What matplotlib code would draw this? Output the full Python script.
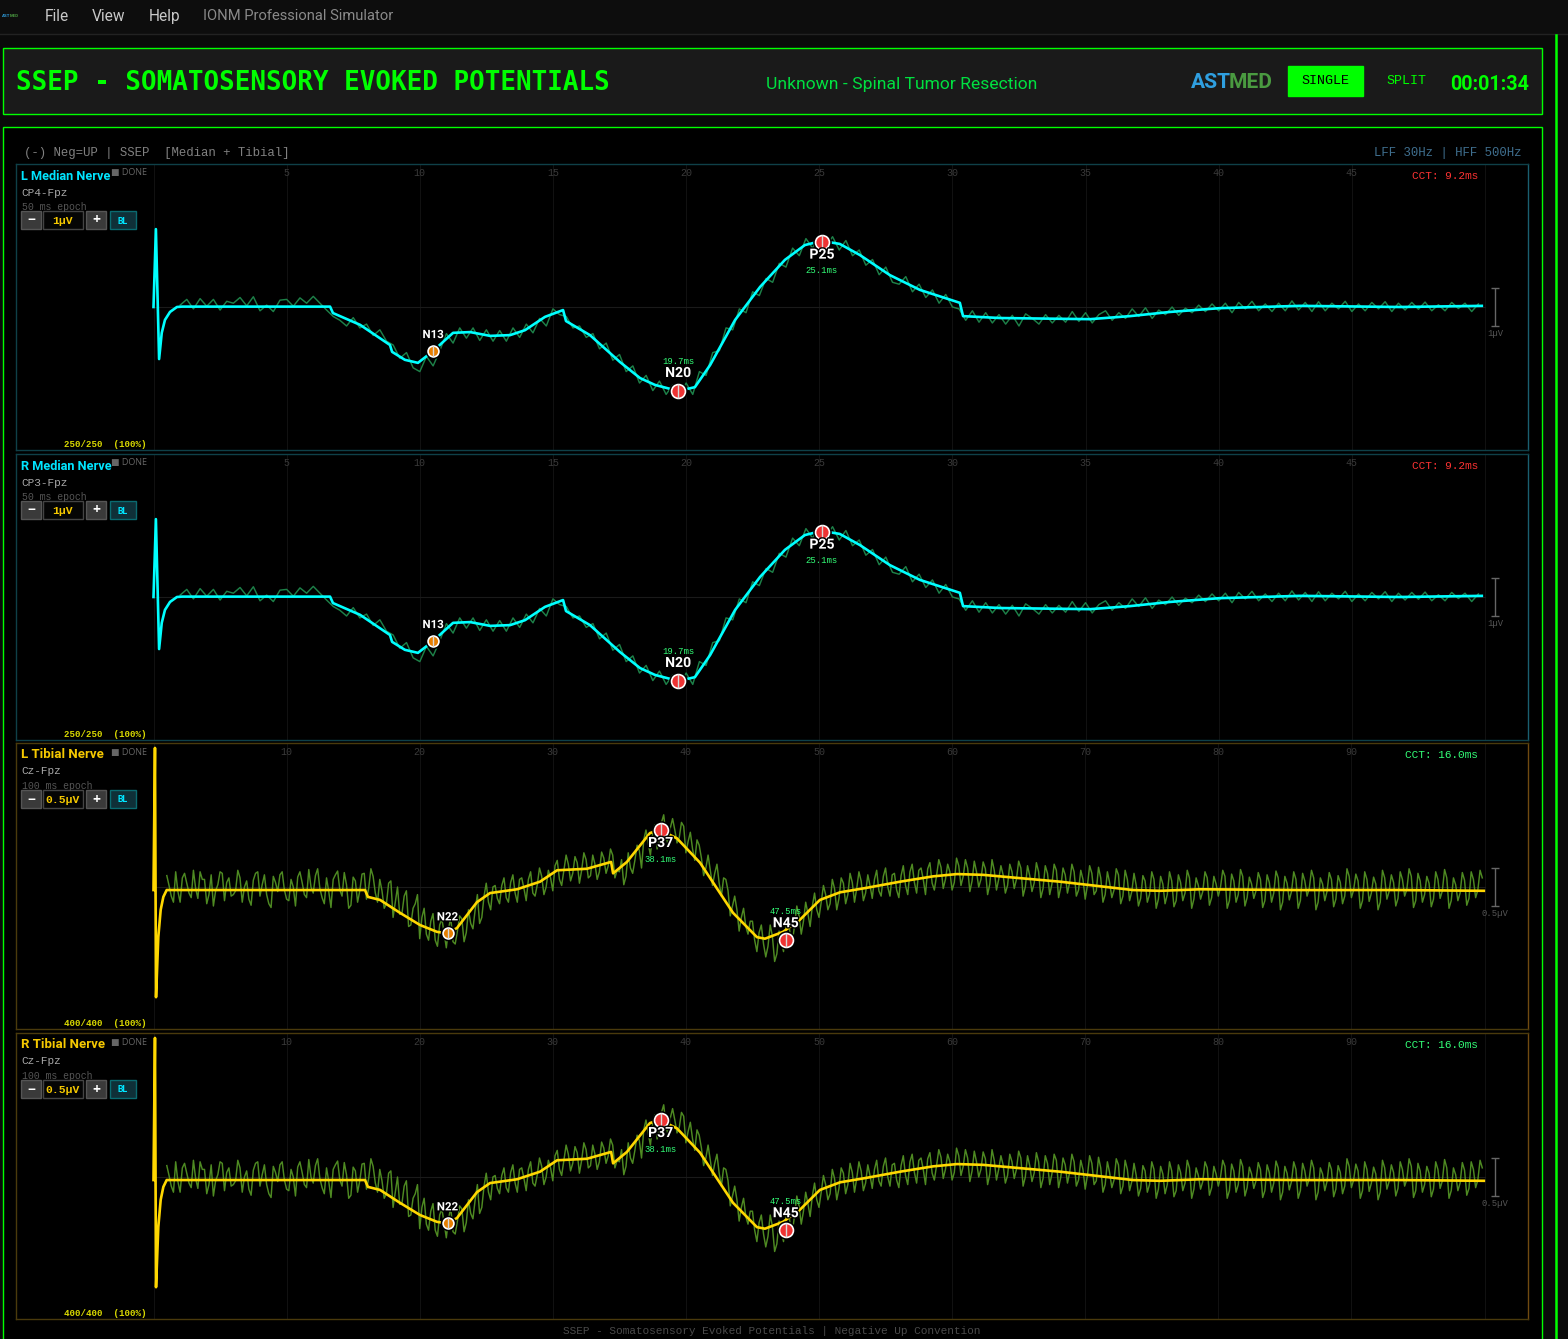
import matplotlib
matplotlib.use("Agg")
import matplotlib.pyplot as plt
import matplotlib.patheffects as pe
from matplotlib.patches import Rectangle
import numpy as np

W, H = 1568, 1339

# cleaned averages, (ms, uV)
median_t = [0, 0.09, 0.21, 0.31, 0.43, 0.62, 0.88, 1.07, 6.63, 6.74, 7.76, 8.88, 8.96, 9.44, 9.93, 10.5, 10.95, 11.25,
            11.89, 12.64, 13.39, 13.95, 14.7, 15.38, 15.49, 16.39, 17.52, 18.27, 18.83, 19.7, 20.33, 20.9, 21.84,
            22.78, 23.71, 24.46, 25.1, 25.77, 26.52, 27.65, 28.78, 30.28, 30.4, 31.79, 35.17, 36.67, 38.17, 40.05,
            43.05, 46.8, 49.88]
median_v = [0, 2.05, -1.37, -0.68, -0.34, -0.13, 0, 0.01, 0.01, -0.16, -0.47, -1.0, -1.18, -1.39, -1.47, -1.16, -0.87,
            -0.68, -0.66, -0.76, -0.74, -0.61, -0.26, -0.08, -0.37, -0.74, -1.45, -1.87, -2.05, -2.21, -2.11, -1.53,
            -0.34, 0.53, 1.24, 1.63, 1.74, 1.66, 1.37, 0.84, 0.45, 0.11, -0.24, -0.29, -0.32, -0.24, -0.13, -0.03,
            0.03, 0, 0.03]
tibial_t = [0, 0.11, 0.19, 0.36, 0.54, 0.74, 0.99, 15.89, 16.11, 17.02, 18.52, 20.02, 21.3, 22.05, 22.8, 24.3, 25.28,
            27.31, 29.04, 30.32, 32.57, 34.38, 34.53, 35.57, 37.3, 38.05, 39.33, 41.06, 43.54, 45.34, 45.94, 47.3,
            48.57, 50.07, 51.58, 53.61, 56.09, 58.57, 60.37, 62.32, 64.88, 68.11, 71.11, 73.59, 75.62, 78.62,
            86.13, 93.64, 99.95]
tibial_v = [-0.04, 1.83, -1.45, -0.66, -0.3, -0.13, -0.04, -0.04, -0.13, -0.17, -0.34, -0.5, -0.59, -0.61, -0.54, -0.2,
            -0.08, -0.03, 0.07, 0.22, 0.24, 0.33, 0.18, 0.33, 0.71, 0.75, 0.64, 0.32, -0.34, -0.66, -0.68, -0.59,
            -0.43, -0.17, -0.07, -0.01, 0.07, 0.14, 0.17, 0.16, 0.12, 0.07, 0.01, -0.04, -0.05, -0.03, -0.04,
            -0.04, -0.05]

# raw single trace behind the average, starts at 1 ms
median_raw = [
    0.05, 0.2, -0.05, 0.22, 0.02, 0.2, -0.08, 0.15,
    0.1, 0.25, 0.03, 0.27, -0.1, 0.05, -0.12, 0.18,
    0.2, 0.02, 0.24, 0.1, 0.28, 0.1, -0.08, -0.25,
    -0.35, -0.5, -0.28, -0.55,
    -0.45, -0.75, -0.6, -0.9,
    -1.0, -1.35, -1.2, -1.6,
    -1.7, -1.3, -1.55, -1.15,
    -0.7, -0.95, -0.55, -0.82,
    -0.55, -0.88, -0.6, -0.9,
    -0.62, -0.9, -0.55, -0.8,
    -0.45, -0.68, -0.3, -0.5,
    -0.05, -0.2, -0.25, -0.55,
    -0.5, -0.8, -0.7, -1.1,
    -0.95, -1.4, -1.25, -1.7,
    -1.55, -2.0, -1.8, -2.2,
    -1.95, -2.3, -2.05, -2.35,
    -2.0, -2.3, -1.7, -1.8,
    -1.2, -1.15, -0.55, -0.6,
    -0.05, -0.15, 0.4, 0.3,
    0.75, 0.65, 1.15, 1.05,
    1.55, 1.35, 1.8, 1.55,
    1.9, 1.6, 1.85, 1.5,
    1.75, 1.35, 1.5, 1.1,
    1.25, 0.85, 1.05, 0.65,
    0.6, 0.8, 0.4, 0.6,
    0.25, 0.45, 0.1, 0.33,
    0.0, -0.05, -0.35, -0.1,
    -0.4, -0.15, -0.42, -0.2,
    -0.45, -0.22, -0.5, -0.18,
    -0.3, -0.45, -0.2, -0.42,
    -0.22, -0.4, -0.12, -0.38,
    -0.15, -0.42, -0.2, -0.1,
    -0.35, -0.15, -0.3, -0.05,
    -0.25, -0.02, -0.3, -0.08,
    -0.2, 0.0, -0.22, -0.03,
    -0.15, 0.05, -0.12, 0.08,
    -0.1, 0.1, -0.15, 0.12,
    -0.05, 0.15, -0.1, 0.08,
    -0.12, 0.1, -0.1, 0.16,
    -0.08, 0.12, -0.12, 0.14,
    -0.1, 0.1, -0.05, 0.15,
    -0.12, 0.08, -0.1, 0.12,
    -0.05, 0.14, -0.12, 0.1,
    -0.08, 0.12, -0.06, 0.13,
    -0.1, 0.06, -0.1, 0.12,
    -0.04, 0.1, -0.12, 0.08,
]
tibial_raw_a = [
    0.15, -0.12, 0.2, -0.2, 0.18, -0.08, 0.22, -0.15, 0.1, -0.22, 0.16, -0.05, 0.2, -0.18, 0.12,
    -0.1, 0.22, -0.2, 0.08, -0.24, 0.18, -0.12, 0.16, -0.22, 0.14, -0.06, 0.2, -0.16, 0.1, -0.25,
    0.2, -0.1, 0.23, -0.08, 0.24, -0.14, 0.12, -0.27, 0.16, -0.04, 0.19, -0.28, 0.13, -0.2, 0.17,
    -0.16, 0.24, -0.08, 0.1, -0.28, 0.05, -0.4, 0.0, -0.35, -0.05, -0.5, -0.22, -0.68, -0.28, -0.7,
    -0.35, -0.78, -0.42, -0.8, -0.4, -0.75, -0.38, -0.72, -0.3, -0.55, -0.1, -0.4, 0.05, -0.3, 0.02,
    -0.22, 0.12, -0.2, 0.16, -0.2, 0.12, -0.18, 0.2, -0.12, 0.25, -0.1, 0.22, -0.05, 0.35, 0.02,
    0.42, 0.08, 0.4, 0.05, 0.45, 0.12, 0.42, 0.1, 0.46, 0.18, 0.5, 0.12, 0.2, 0.03, 0.45,
    0.18, 0.55, 0.25, 0.75, 0.42, 0.82, 0.6, 0.95, 0.55, 0.9, 0.58, 0.85, 0.45, 0.72, 0.35,
    0.55, 0.15, 0.42, 0.02, 0.3, -0.12, 0.1, -0.38, -0.12, -0.58, -0.28, -0.62, -0.45, -0.85, -0.5,
    -0.92, -0.5, -0.98, -0.58, -0.85, -0.4, -0.72, -0.25, -0.62, -0.2, -0.52, -0.08, -0.4, 0.02, -0.3,
    0.1, -0.3, 0.12, -0.22, 0.18, -0.2, 0.2, -0.18, 0.16, -0.15, 0.22, -0.12, 0.25, -0.12, 0.18,
    -0.14, 0.28, -0.1, 0.3, -0.08, 0.25, -0.1, 0.32, -0.04, 0.36, -0.02, 0.3, -0.04, 0.38, 0.02,
    0.36, -0.06, 0.34, 0.0, 0.33, -0.1, 0.36, -0.04, 0.28, -0.08, 0.3, -0.02, 0.34, -0.12, 0.28,
    -0.06, 0.32, -0.14, 0.28, -0.1, 0.3, -0.14, 0.25, -0.08, 0.3, -0.12, 0.22, -0.16, 0.28, -0.1,
    0.26, -0.2, 0.2, -0.14, 0.24, -0.22, 0.22, -0.18, 0.18, -0.25, 0.15, -0.2, 0.2, -0.28, 0.14,
    -0.22, 0.2, -0.26, 0.16, -0.18, 0.22, -0.28, 0.12, -0.16, 0.2, -0.24, 0.14, -0.12, 0.22, -0.28,
    0.17, -0.2, 0.23, -0.25, 0.13, -0.15, 0.19, -0.27, 0.16, -0.2, 0.21, -0.3, 0.14, -0.17, 0.2,
    -0.28, 0.18, -0.12, 0.22, -0.3, 0.12, -0.18, 0.19, -0.26, 0.15, -0.22, 0.24, -0.14, 0.17, -0.28,
    0.2, -0.19, 0.13, -0.3, 0.22, -0.16, 0.16, -0.25, 0.2, -0.12, 0.24, -0.27, 0.18, -0.2, 0.14,
    -0.26, 0.2, -0.15, 0.23, -0.28, 0.12, -0.18, 0.19, -0.24, 0.2, -0.14, 0.22,
]
# in-between samples of the same trace
tibial_raw_b = [
    0.02, -0.2, -0.06, 0.12, 0.05, -0.14, -0.02, 0.2, 0.1, -0.1, -0.25, 0.03, 0.18, 0.06, -0.12,
    -0.05, 0.12, 0.0, -0.16, 0.09, 0.2, 0.03, -0.1, -0.27, 0.06, 0.16, -0.04, -0.18, 0.0, 0.13,
    0.06, -0.14, 0.0, 0.15, -0.02, -0.22, -0.06, 0.1, 0.21, -0.12, 0.03, -0.24, 0.08, -0.05, 0.18,
    -0.02, 0.14, -0.2, -0.05, -0.22, 0.08, -0.2, -0.36, -0.12, -0.52, -0.28, -0.1, -0.4, -0.62, -0.45,
    -0.7, -0.5, -0.6, -0.55, -0.72, -0.58, -0.42, -0.6, -0.48, -0.3, -0.48, -0.12, -0.2, 0.0, -0.15,
    0.02, -0.14, 0.06, -0.08, 0.1, -0.02, 0.1, -0.08, 0.03, 0.14, 0.0, 0.12, 0.28, 0.1, 0.22,
    0.3, 0.18, 0.32, 0.22, 0.36, 0.15, 0.3, 0.2, 0.38, 0.28, 0.42, 0.22, 0.36, 0.14, 0.25,
    0.35, 0.48, 0.62, 0.58, 0.7, 0.5, 0.85, 0.68, 0.78, 0.75, 0.65, 0.8, 0.6, 0.5, 0.62,
    0.38, 0.25, 0.22, 0.18, 0.05, 0.12, -0.05, -0.25, -0.3, -0.4, -0.52, -0.45, -0.7, -0.6, -0.75,
    -0.78, -0.65, -0.88, -0.7, -0.55, -0.62, -0.5, -0.38, -0.45, -0.35, -0.25, -0.3, -0.2, -0.1, -0.22,
    -0.02, -0.15, 0.05, -0.1, 0.06, -0.02, 0.08, -0.08, 0.02, 0.1, -0.05, 0.14, 0.0, 0.16, -0.04,
    0.15, 0.02, 0.2, 0.06, 0.22, 0.1, 0.24, 0.05, 0.15, 0.26, 0.1, 0.2, 0.06, 0.28, 0.14,
    0.25, 0.08, 0.2, 0.1, 0.24, 0.04, 0.22, 0.1, 0.16, 0.02, 0.2, 0.1, 0.25, 0.0, 0.15,
    0.05, 0.2, -0.02, 0.18, 0.04, 0.22, 0.0, 0.16, 0.06, 0.2, -0.04, 0.1, 0.02, 0.18, -0.05,
    0.12, -0.1, 0.06, -0.04, 0.16, -0.12, 0.1, -0.06, 0.02, -0.15, 0.08, -0.1, 0.1, -0.16, 0.04,
    -0.1, 0.08, -0.18, 0.06, -0.08, 0.12, -0.16, 0.02, -0.06, 0.12, -0.14, 0.04, 0.0, 0.14, -0.18,
    0.08, -0.1, 0.14, -0.14, 0.04, -0.05, 0.1, -0.18, 0.06, -0.08, 0.12, -0.2, 0.05, -0.06, 0.1,
    -0.18, 0.08, -0.02, 0.12, -0.2, 0.04, -0.06, 0.1, -0.16, 0.06, -0.12, 0.14, -0.04, 0.08, -0.18,
    0.1, -0.08, 0.04, -0.2, 0.12, -0.06, 0.06, -0.15, 0.1, -0.03, 0.14, -0.18, 0.08, -0.1, 0.05,
    -0.16, 0.1, -0.05, 0.12, -0.18, 0.03, -0.08, 0.09, -0.15, 0.1, -0.04, 0.12,
]
tibial_raw = np.column_stack([tibial_raw_a, tibial_raw_b]).ravel()

median_raw_step = 0.25
tibial_raw_step = 1 / 6

# peak name, ms, uV, big marker, name offset px, latency offset px
median_peaks = [("N13", 10.5, -1.16, False, 16, None),
                ("N20", 19.7, -2.21, True, 18, 29),
                ("P25", 25.1, 1.72, True, -13, -29)]
tibial_peaks = [("N22", 22.1, -0.61, False, 16, None),
                ("P37", 38.1, 0.75, True, -13, -29),
                ("N45", 47.5, -0.7, True, 17, 29)]

# name, montage, panel top px, stats
panels = [("L Median Nerve", "CP4-Fpz", 164, "median"),
          ("R Median Nerve", "CP3-Fpz", 454, "median"),
          ("L Tibial Nerve", "Cz-Fpz", 743, "tibial"),
          ("R Tibial Nerve", "Cz-Fpz", 1033, "tibial")]

median_ticks = [5, 10, 15, 20, 25, 30, 35, 40, 45]
tibial_ticks = [10, 20, 30, 40, 50, 60, 70, 80, 90]

SANS = "Open Sans"
MONO = "Liberation Mono"
GREEN = "#00ff00"

fig = plt.figure(figsize=(W / 100, H / 100), dpi=100, facecolor="#0a0a0a")


def pixel_axes(z):
    ax = fig.add_axes([0, 0, 1, 1], zorder=z)
    ax.set_xlim(0, W)
    ax.set_ylim(H, 0)
    ax.axis("off")
    return ax


def px(size):
    return size * 0.72


def box(ax, x0, y0, x1, y1, fc, ec, lw=1.0):
    ax.add_patch(Rectangle((x0, y0), x1 - x0, y1 - y0, fc=fc, ec=ec, lw=lw))


bg = pixel_axes(0)
fg = pixel_axes(2)

# app chrome
box(bg, -2, -2, W + 2, 34, "#0d0d0d", "#222222")
bg.text(2, 16, "AST", color="#2f9fe0", fontsize=3.2, fontweight="bold", family="Roboto", va="center")
bg.text(10, 16, "MED", color="#4a9a40", fontsize=3.2, fontweight="bold", family="Roboto", va="center")
for x, s in [(45, "File"), (92, "View"), (149, "Help")]:
    bg.text(x, 16.5, s, color="#c8c8c8", fontsize=px(15.5), family="Roboto", va="center")
bg.text(203, 16.5, "IONM Professional Simulator", color="#8a8a8a", fontsize=px(14.7), family="Roboto", va="center")

box(bg, 3.5, 48, 1542.5, 114, "#1a1a1a", GREEN)
bg.text(16, 83.5, "SSEP - SOMATOSENSORY EVOKED POTENTIALS", color=GREEN, fontsize=18.7, fontweight="bold",
        family="DejaVu Sans Mono", va="center")
bg.text(766, 84, "Unknown - Spinal Tumor Resection", color="#00e040", fontsize=px(17.5), family="Roboto",
        va="center")
bg.text(1191, 83, "AST", color="#2f9fe0", fontsize=px(21), fontweight="bold", family="Roboto", va="center")
bg.text(1229, 83, "MED", color="#4a9a40", fontsize=px(21), fontweight="bold", family="Roboto", va="center")
box(bg, 1288, 66, 1363, 96, GREEN, GREEN)
bg.text(1325.5, 81.5, "SINGLE", color="#000000", fontsize=9.6, family=MONO, ha="center", va="center")
bg.text(1406, 81.5, "SPLIT", color=GREEN, fontsize=9.6, family=MONO, ha="center", va="center")
bg.text(1489.5, 84, "00:01:34", color=GREEN, fontsize=px(19.8), fontweight="bold", family="Roboto", ha="center",
        va="center")

box(bg, 3.5, 127, 1542.5, H + 5, "#000000", GREEN)
bg.plot([1556, 1556], [35, H], color=GREEN, lw=1.8)
bg.text(24, 153, "(-) Neg=UP | SSEP  [Median + Tibial]", color="#808080", fontsize=8.9, family=MONO, va="center")
bg.text(1522, 153, "LFF 30Hz | HFF 500Hz", color="#3f6f8f", fontsize=8.9, family=MONO, ha="right", va="center")
bg.text(772, 1331.5, "SSEP - Somatosensory Evoked Potentials | Negative Up Convention", color="#4a4a4a",
        fontsize=8, family=MONO, ha="center", va="center")

for name, montage, top, kind in panels:
    median = kind == "median"
    ms_px = 26.63 if median else 13.31
    uv_px = 38 if median else 76
    zero_y = top + (143 if median else 144)
    t_mean, v_mean = (median_t, median_v) if median else (tibial_t, tibial_v)
    raw = median_raw if median else tibial_raw
    step = median_raw_step if median else tibial_raw_step
    peaks = median_peaks if median else tibial_peaks
    ticks = median_ticks if median else tibial_ticks
    end_ms = 50 if median else 100
    line_c = "#00ffff" if median else "#ffd700"
    raw_c = "#1d8048" if median else "#4e8a22"
    edge_c = "#0f4048" if median else "#4a3a0c"
    bottom = top + 286

    ax = fig.add_axes([16 / W, 1 - bottom / H, (1528 - 16) / W, (bottom - top) / H], zorder=1, facecolor="#000000")
    ax.set_xlim((16 - 153.5) / ms_px, (1528 - 153.5) / ms_px)
    ax.set_ylim((zero_y - bottom) / uv_px, (zero_y - top) / uv_px)
    ax.set_xticks([])
    ax.set_yticks([])
    for s in ax.spines.values():
        s.set_color(edge_c)
        s.set_linewidth(1.0)
    ax.spines["right"].set_color("#1a5f70" if median else "#704a10")

    # grid
    for tick in [0] + ticks + [end_ms]:
        ax.axvline(tick, color="#111111", lw=0.8, zorder=1)
    ax.plot([0, end_ms], [0, 0], color="#1a1a1a", lw=0.8, zorder=1)
    y_lab = (zero_y - (top + 9)) / uv_px
    for tick in ticks:
        ax.text(tick, y_lab, str(tick), color="#3a3a3a", fontsize=7.2, family=MONO, ha="center", va="center")

    # traces
    raw_t = 1 + np.arange(len(raw)) * step
    ax.plot(raw_t, raw, color=raw_c, lw=1.05, zorder=2)
    ax.plot(t_mean, v_mean, color=line_c, lw=1.9, zorder=3, solid_joinstyle="round")

    # scale bar
    amp = 1.0 if median else 0.5
    bar_x = (1495 - 153.5) / ms_px
    ax.errorbar([bar_x], [0], yerr=[amp / 2], color="#666666", lw=1.0, capsize=3, capthick=1.0, zorder=2)
    ax.annotate("1µV" if median else "0.5µV", (bar_x, -amp / 2), xytext=(0, -px(8)), textcoords="offset points",
                color="#555555", fontsize=6.4, family=MONO, ha="center", va="center")

    # peak markers
    halo = [pe.withStroke(linewidth=2, foreground="#000000")]
    for label, pt, pv, big, name_dy, lat_dy in peaks:
        size = 10 if big else 7.8
        ax.plot([pt], [pv], "o", ms=size + 2.4, color="#000000", zorder=4)
        ax.plot([pt], [pv], "o", ms=size, mfc="#ee3333" if big else "#e67e00", mec="#ffffff", mew=1.2, zorder=5)
        ax.plot([pt], [pv], "|", ms=size + 0.5, color="#d8d8d8", mew=1.0, zorder=6)
        fs = px(14) if big else px(11.5)
        ax.annotate(label, (pt, pv), xytext=(0, px(name_dy)), textcoords="offset points", color="#ffffff",
                    fontsize=fs, fontweight="bold", family="Roboto", ha="center", va="center", zorder=7,
                    path_effects=halo)
        if lat_dy is not None:
            ax.annotate("%.1fms" % pt, (pt, pv), xytext=(0, px(lat_dy)), textcoords="offset points",
                        color="#33ff77", fontsize=6.4, family=MONO, ha="center", va="center", zorder=7)

    # left column of the panel
    name_c = "#00e5ff" if median else "#f5c800"
    fg.text(21, top + 12, name, color=name_c, fontsize=px(12.7 if median else 13.2), fontweight="bold",
            family="Roboto", va="center")
    fg.text(111.5, top + 9, "■ DONE", color="#666666", fontsize=px(9), family=["Open Sans", "DejaVu Sans"],
            va="center")
    fg.text(21, top + 28.5, montage, color="#a8a8a8", fontsize=8, family=MONO, va="center")
    fg.text(22, top + 43, "50 ms epoch" if median else "100 ms epoch", color="#555555", fontsize=7.1, family=MONO,
            va="center")
    y0, y1 = top + 47, top + 65
    box(fg, 21, y0, 41, y1, "#3a3a3a", "#555555")
    fg.text(31, top + 56.5, "−", color="#ffffff", fontsize=10, fontweight="bold", family=SANS, ha="center", va="center")
    box(fg, 43, y0, 83, y1, "#050505", "#444444")
    fg.text(63, top + 57, "1µV" if median else "0.5µV", color="#f5c800", fontsize=8.2, fontweight="bold",
            family=MONO, ha="center", va="center")
    box(fg, 86, y0, 106, y1, "#3a3a3a", "#555555")
    fg.text(96, top + 56.5, "+", color="#ffffff", fontsize=10, fontweight="bold", family=SANS, ha="center", va="center")
    box(fg, 110, y0, 136, y1, "#0f3038", "#0a6a70")
    fg.text(123, top + 57, "BL", color="#00e5ff", fontsize=6.4, fontweight="bold", family="Roboto", ha="center",
            va="center")
    fg.text(147, top + 280.5, "250/250  (100%)" if median else "400/400  (100%)", color="#d8d800", fontsize=6.6,
            fontweight="bold", family=MONO, ha="right", va="center")
    cct = "CCT: 9.2ms" if median else "CCT: 16.0ms"
    fg.text(1478, top + 12, cct, color="#ff3333" if median else "#33ff77", fontsize=8, family=MONO, ha="right",
            va="center")

fig.savefig("out.png", dpi=100, facecolor=fig.get_facecolor())
